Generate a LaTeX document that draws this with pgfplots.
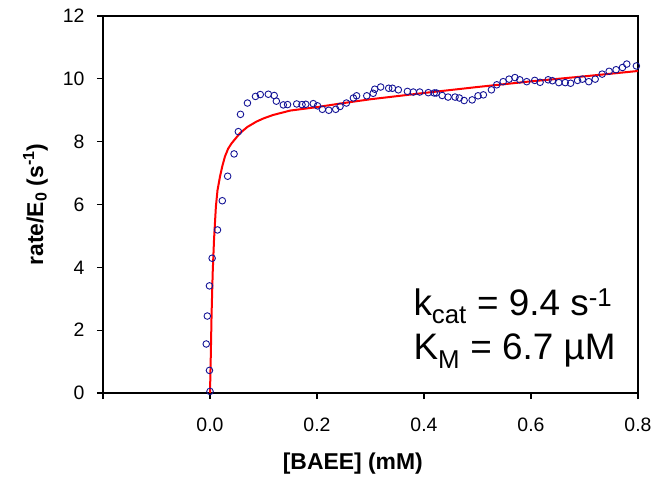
\documentclass[border=0pt]{standalone}
\usepackage{fontspec}
\setmainfont{Liberation Sans}
\usepackage{pgfplots}
\pgfplotsset{compat=1.18}
\definecolor{ptblue}{RGB}{20,20,150}
\begin{document}
\begin{tikzpicture}[x=1bp,y=1bp]
\begin{axis}[
  scale only axis,
  width=535bp, height=377bp,
  xmin=-0.2, xmax=0.8, ymin=0, ymax=12,
  xtick={-0.2,0,0.2,0.4,0.6,0.8},
  xticklabels={,0.0,0.2,0.4,0.6,0.8},
  ytick={0,2,4,6,8,10,12},
  yticklabels={0,2,4,6,8,10,12},
  xtick pos=bottom, ytick pos=left,
  tick align=outside,
  major tick length=6bp,
  tick style={line width=1.2bp, black},
  axis line style={line width=1.2bp},
  ticklabel style={font=\fontsize{19.5}{22}\selectfont},
  xticklabel style={yshift=-15bp},
  yticklabel style={xshift=-9bp},
  label style={font=\fontsize{23}{26}\selectfont\bfseries},
  xlabel={[BAEE] (mM)},
  ylabel={rate/E\textsubscript{0} (s\textsuperscript{-1})},
  xlabel style={at={(axis description cs:0.467,-0.203)}, anchor=base},
  ylabel style={at={(axis description cs:-0.1121,0.5)}, anchor=base},
  clip=false,
]
\addplot[only marks, mark=o, mark size=3.3bp, ptblue, mark options={line width=0.9bp}] coordinates {
(0.000,0.05) (-0.001,0.72) (-0.007,1.56) (-0.005,2.45) (-0.001,3.41)
(0.004,4.29) (0.014,5.19) (0.023,6.12) (0.033,6.90) (0.045,7.61)
(0.053,8.32) (0.057,8.87) (0.070,9.23) (0.085,9.44) (0.094,9.50)
(0.109,9.51) (0.120,9.47) (0.124,9.29) (0.137,9.17) (0.145,9.18)
(0.162,9.20) (0.172,9.18) (0.179,9.19) (0.193,9.21) (0.201,9.14)
(0.210,9.03) (0.222,9.00) (0.235,9.03) (0.243,9.12) (0.255,9.23)
(0.268,9.39) (0.274,9.46) (0.293,9.46) (0.305,9.54) (0.308,9.67)
(0.319,9.74) (0.334,9.70) (0.341,9.70) (0.352,9.65) (0.369,9.60)
(0.380,9.58) (0.392,9.58) (0.408,9.56) (0.419,9.55) (0.423,9.55)
(0.434,9.47) (0.445,9.42) (0.458,9.42) (0.466,9.39) (0.475,9.31)
(0.490,9.33) (0.501,9.46) (0.511,9.49) (0.526,9.65) (0.536,9.81)
(0.548,9.91) (0.559,9.99) (0.570,10.04) (0.579,9.97) (0.592,9.91)
(0.607,9.95) (0.617,9.89) (0.632,9.97) (0.640,9.94) (0.652,9.88)
(0.664,9.88) (0.674,9.86) (0.687,9.95) (0.696,9.99) (0.708,9.91)
(0.720,9.99) (0.733,10.15) (0.746,10.24) (0.759,10.29) (0.771,10.36)
(0.779,10.47) (0.797,10.41)
};
\addplot[red, line width=2bp, no marks, line join=round] coordinates {
(0,0) (0.0012,0.94) (0.003,2.54) (0.005,3.81) (0.0075,4.87) (0.011,5.93)
(0.014,6.45) (0.0187,6.89) (0.023,7.22) (0.028,7.53) (0.034,7.78) (0.0405,7.95)
(0.056,8.27) (0.07,8.47) (0.087,8.64) (0.1,8.74) (0.118,8.85) (0.15,8.99)
(0.2,9.10) (0.25,9.23) (0.3,9.35) (0.4,9.55) (0.5,9.74) (0.6,9.92)
(0.7,10.08) (0.8,10.25)
};
\node[anchor=base west, inner sep=0pt, font=\fontsize{37}{44}\selectfont] at (axis description cs:0.580,0.2069) {k\textsubscript{cat} = 9.4 s\textsuperscript{-1}};
\node[anchor=base west, inner sep=0pt, font=\fontsize{37}{44}\selectfont] at (axis description cs:0.580,0.0894) {K\textsubscript{M} = 6.7 µM};
\end{axis}
\path ([shift={(-103bp,-84bp)}]current axis.south west) rectangle ([shift={(23bp,16bp)}]current axis.north east);
\end{tikzpicture}
\end{document}
